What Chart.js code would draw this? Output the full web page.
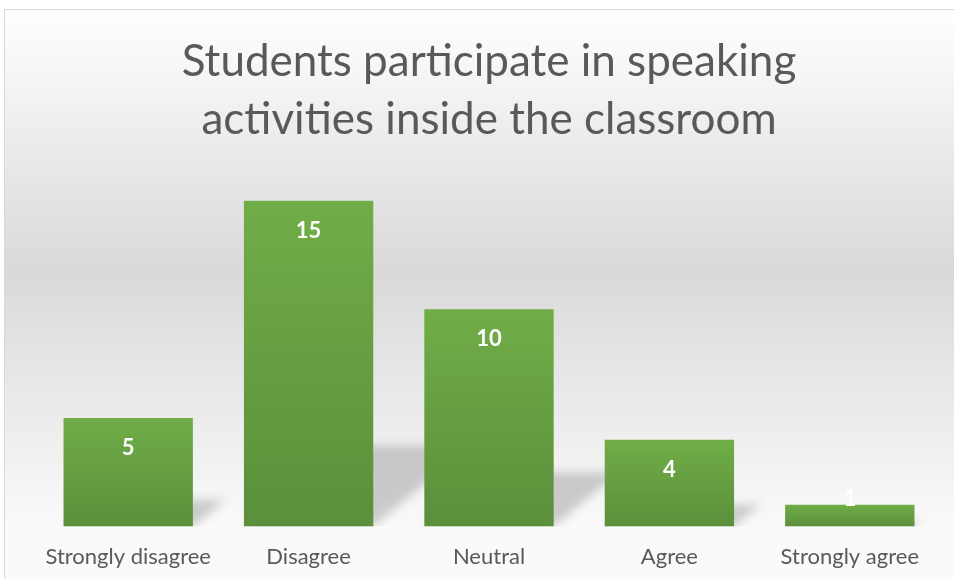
<!DOCTYPE html>
<html>
<head>
<meta charset="utf-8">
<script src="https://cdn.jsdelivr.net/npm/chart.js@4.4.0/dist/chart.umd.min.js"></script>
<style>
html,body{margin:0;padding:0;background:#fff;}
#wrap{position:relative;width:954px;height:579px;}
</style>
</head>
<body>
<div id="wrap"><canvas id="chart" width="954" height="579"></canvas></div>
<script>
// DATA
var categories = ["Strongly disagree","Disagree","Neutral","Agree","Strongly agree"];
var counts = [5,15,10,4,1];
var titleLines = ["Students participate in speaking","activities inside the classroom"];

var FONT = "Lato, 'Open Sans', sans-serif";

// background gradient + frame
var bgPlugin = {
  id:"bg",
  beforeDraw:function(chart){
    var ctx = chart.ctx, w = chart.width, h = chart.height;
    ctx.save();
    var g = ctx.createLinearGradient(0,9,0,530);
    g.addColorStop(0,"#ffffff");
    g.addColorStop(0.5,"#d9d9d9");
    g.addColorStop(0.92,"#f5f5f5");
    g.addColorStop(1,"#fafafa");
    ctx.fillStyle = g;
    ctx.fillRect(4,9,w-4,h-9);
    ctx.fillStyle = "#fafafa";
    ctx.fillRect(4,530,w-4,h-530);
    ctx.strokeStyle = "#d9d9d9";
    ctx.lineWidth = 1;
    ctx.strokeRect(4.5,9.5,w-4,h);
    ctx.restore();
  }
};

// perspective shadows behind the bars
var shadowPlugin = {
  id:"shadows",
  beforeDatasetsDraw:function(chart){
    var ctx = chart.ctx, area = chart.chartArea;
    var meta = chart.getDatasetMeta(0);
    ctx.save();
    ctx.beginPath();
    ctx.rect(area.left-20, area.top, area.right-area.left+60, area.bottom-area.top);
    ctx.clip();
    ctx.filter = "blur(5px)";
    meta.data.forEach(function(bar){
      var hgt = bar.base - bar.y;
      var half = bar.width/2;
      var left = bar.x - half, right = bar.x + half, bottom = bar.base;
      var dy = hgt*0.25, dx = dy*1.2;
      var g = ctx.createLinearGradient(0,bottom,0,bottom-dy);
      g.addColorStop(0,"rgba(120,120,120,0.35)");
      g.addColorStop(1,"rgba(150,150,150,0.45)");
      ctx.fillStyle = g;
      ctx.beginPath();
      ctx.moveTo(left, bottom);
      ctx.lineTo(right, bottom);
      ctx.lineTo(right+dx, bottom-dy);
      ctx.lineTo(left+dx, bottom-dy);
      ctx.closePath();
      ctx.fill();
    });
    ctx.restore();
  }
};

// value labels inside bars near the top
var labelPlugin = {
  id:"valueLabels",
  afterDatasetsDraw:function(chart){
    var ctx = chart.ctx;
    var meta = chart.getDatasetMeta(0);
    ctx.save();
    ctx.fillStyle = "#ffffff";
    ctx.font = "bold 22px " + FONT;
    ctx.textAlign = "center";
    ctx.textBaseline = "middle";
    meta.data.forEach(function(bar,i){
      var hgt = bar.base - bar.y;
      var y = hgt >= 60 ? bar.y + 30 : bar.y - 6;
      ctx.fillText(String(counts[i]), bar.x, y);
    });
    ctx.restore();
  }
};

function barFill(context){
  var chart = context.chart;
  if(!chart.chartArea) return "#66a043";
  var y = chart.scales.y;
  var top = y.getPixelForValue(context.raw);
  var bottom = y.getPixelForValue(0);
  if(!isFinite(top) || top === bottom) return "#66a043";
  var g = chart.ctx.createLinearGradient(0,top,0,bottom);
  g.addColorStop(0,"#70ad47");
  g.addColorStop(1,"#5b8f3b");
  return g;
}

new Chart(document.getElementById("chart"),{
  type:"bar",
  data:{
    labels:categories,
    datasets:[{
      data:counts,
      backgroundColor:barFill,
      borderWidth:0,
      barPercentage:0.717,
      categoryPercentage:1
    }]
  },
  options:{
    responsive:false,
    animation:false,
    layout:{padding:{left:38,right:14,top:0,bottom:-8}},
    plugins:{
      legend:{display:false},
      tooltip:{enabled:false},
      title:{
        display:true,
        text:titleLines,
        color:"#595959",
        font:{family:FONT,size:44,weight:"normal",lineHeight:1.318},
        padding:{top:33,bottom:30}
      }
    },
    scales:{
      x:{
        grid:{display:false,drawTicks:false},
        border:{display:false},
        ticks:{color:"#595959",font:{family:FONT,size:22,lineHeight:1.2},padding:17,maxRotation:0}
      },
      y:{
        display:false,
        min:0,
        max:16
      }
    }
  },
  plugins:[bgPlugin,shadowPlugin,labelPlugin]
});
</script>
</body>
</html>
